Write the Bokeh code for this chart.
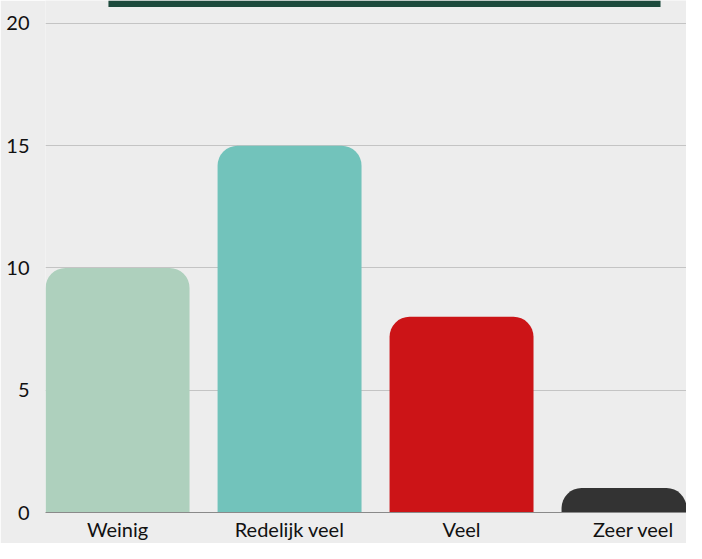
from bokeh.plotting import figure
from bokeh.models import Range1d, FixedTicker, BoxAnnotation, ColumnDataSource
from bokeh.embed import file_html
from bokeh.resources import INLINE

categories = ["Weinig", "Redelijk veel", "Veel", "Zeer veel"]
values = [10, 15, 8, 1]
colors = ["#aed0bd", "#72c3bb", "#cc1417", "#333333"]
y_ticks = [0, 5, 10, 15, 20]

BG = "#ededed"
xs = list(range(len(categories)))
src = ColumnDataSource(dict(x=xs, top=values, color=colors))

p = figure(width=686, height=543, output_backend="svg", toolbar_location=None,
           x_range=Range1d(-0.419, 3.308), y_range=Range1d(0, 20.935),
           min_border_left=45, min_border_right=0, min_border_top=0, min_border_bottom=28)
p.background_fill_color = BG
p.border_fill_color = BG
p.outline_line_color = None

p.vbar(x="x", top="top", bottom=0, width=0.837, color="color", source=src,
       line_color=None, border_radius=(20, 20, 0, 0))

# cropped title banner at top
p.add_layout(BoxAnnotation(left=-0.053, right=3.157, bottom=20.67, top=20.935,
                           fill_color="#1d4a3d", fill_alpha=1, line_color=None))

p.xgrid.visible = False
p.ygrid.ticker = FixedTicker(ticks=y_ticks)
p.ygrid.grid_line_color = "#c4c4c4"
p.ygrid.grid_line_width = 1

p.yaxis.ticker = FixedTicker(ticks=y_ticks)
p.yaxis.axis_line_color = None
p.yaxis.major_tick_line_color = None
p.yaxis.minor_tick_line_color = None
p.yaxis.major_tick_out = 0
p.yaxis.major_tick_in = 0
p.yaxis.major_label_standoff = 16
p.yaxis.major_label_text_font = "Lato"
p.yaxis.major_label_text_font_size = "20px"
p.yaxis.major_label_text_color = "#111111"

p.xaxis.ticker = FixedTicker(ticks=xs)
p.xaxis.major_label_overrides = {i: c for i, c in zip(xs, categories)}
p.xaxis.axis_line_color = "#8a8a8a"
p.xaxis.axis_line_width = 1
p.xaxis.major_tick_line_color = None
p.xaxis.minor_tick_line_color = None
p.xaxis.major_tick_out = 0
p.xaxis.major_tick_in = 0
p.xaxis.major_label_standoff = 4
p.xaxis.major_label_text_font = "Lato"
p.xaxis.major_label_text_font_size = "20px"
p.xaxis.major_label_text_color = "#111111"

open("out.html", "w").write(file_html(p, INLINE))
